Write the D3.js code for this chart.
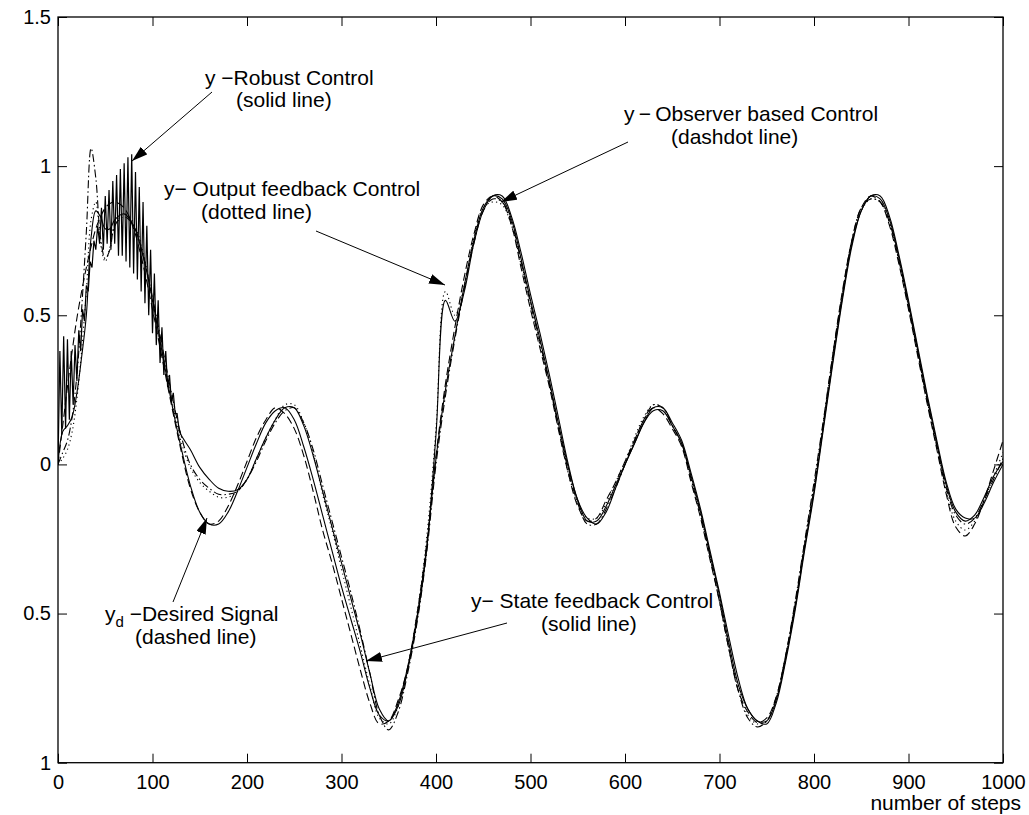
<!DOCTYPE html>
<html>
<head>
<meta charset="utf-8">
<script src="https://cdn.jsdelivr.net/npm/d3@7"></script>
<style>
  body { margin: 0; background: #fff; }
  svg { display: block; font-family: "Liberation Sans", Arial, sans-serif; }
</style>
</head>
<body>
<svg width="1029" height="815"></svg>
<script>
// sample positions (number of steps): dense at the start, then every 10
const steps = d3.range(0, 60, 5).concat(d3.range(60, 1001, 10));

// y_d desired signal (dashed)
const desired = [0, 0.13, 0.26, 0.38, 0.49, 0.58, 0.66, 0.73, 0.79, 0.83, 0.86, 0.875,
  0.88, 0.86, 0.79, 0.67, 0.52, 0.36, 0.2, 0.05, -0.08, -0.16,
  -0.2, -0.19, -0.14, -0.07, 0.01, 0.09, 0.15, 0.19, 0.17, 0.12,
  0.03, -0.09, -0.22, -0.33, -0.45, -0.57, -0.69, -0.8, -0.87, -0.86,
  -0.79, -0.68, -0.5, -0.27, 0.03, 0.27, 0.46, 0.63, 0.77, 0.87,
  0.9, 0.88, 0.8, 0.66, 0.52, 0.39, 0.26, 0.11, -0.03, -0.14,
  -0.19, -0.18, -0.12, -0.06, 0.01, 0.08, 0.15, 0.19, 0.17, 0.12,
  0.06, -0.06, -0.18, -0.32, -0.46, -0.62, -0.76, -0.83, -0.865, -0.85,
  -0.78, -0.64, -0.47, -0.27, -0.08, 0.14, 0.37, 0.58, 0.75, 0.86,
  0.9, 0.88, 0.8, 0.67, 0.52, 0.36, 0.2, 0.05, -0.1, -0.21,
  -0.24, -0.2, -0.12, -0.02, 0.08];

// state feedback control (solid)
const stateFb = [0, 0.11, 0.13, 0.16, 0.24, 0.36, 0.5, 0.76, 0.85, 0.83, 0.79, 0.79,
  0.82, 0.84, 0.8, 0.7, 0.55, 0.38, 0.21, 0.06, -0.07, -0.16,
  -0.2, -0.2, -0.16, -0.09, -0.01, 0.07, 0.14, 0.18, 0.19, 0.15,
  0.06, -0.05, -0.17, -0.29, -0.41, -0.52, -0.63, -0.75, -0.84, -0.86,
  -0.8, -0.68, -0.51, -0.28, 0.02, 0.25, 0.43, 0.6, 0.75, 0.86,
  0.9, 0.89, 0.82, 0.69, 0.55, 0.42, 0.28, 0.13, -0.01, -0.12,
  -0.19, -0.19, -0.14, -0.07, 0.0, 0.07, 0.14, 0.18, 0.18, 0.13,
  0.07, -0.04, -0.16, -0.3, -0.44, -0.6, -0.74, -0.82, -0.86, -0.86,
  -0.79, -0.65, -0.48, -0.28, -0.09, 0.13, 0.35, 0.56, 0.74, 0.85,
  0.9, 0.89, 0.82, 0.69, 0.54, 0.38, 0.22, 0.07, -0.07, -0.16,
  -0.19, -0.17, -0.11, -0.04, 0.01];

// observer based control (dashdot)
const observer = [0, 0.04, 0.08, 0.16, 0.3, 0.52, 0.78, 1.06, 0.96, 0.76, 0.69, 0.72,
  0.8, 0.83, 0.8, 0.7, 0.56, 0.4, 0.24, 0.1, 0.0, -0.05,
  -0.08, -0.1, -0.1, -0.09, -0.05, 0.01, 0.08, 0.14, 0.18, 0.19,
  0.14, 0.05, -0.07, -0.19, -0.31, -0.43, -0.56, -0.7, -0.84, -0.89,
  -0.83, -0.7, -0.53, -0.3, 0.0, 0.23, 0.42, 0.59, 0.74, 0.85,
  0.89, 0.88, 0.81, 0.68, 0.54, 0.41, 0.27, 0.12, -0.02, -0.13,
  -0.2, -0.2, -0.15, -0.08, 0.0, 0.08, 0.15, 0.2, 0.19, 0.13,
  0.07, -0.05, -0.17, -0.31, -0.46, -0.62, -0.76, -0.85, -0.88, -0.86,
  -0.78, -0.64, -0.46, -0.26, -0.06, 0.15, 0.37, 0.57, 0.75, 0.86,
  0.89, 0.88, 0.81, 0.68, 0.53, 0.37, 0.21, 0.06, -0.08, -0.17,
  -0.2, -0.18, -0.12, -0.05, 0.02];

// output feedback control (dotted)
const outputFb = [0, 0.02, 0.05, 0.11, 0.22, 0.38, 0.58, 0.82, 0.88, 0.74, 0.68, 0.73,
  0.8, 0.84, 0.81, 0.71, 0.55, 0.38, 0.22, 0.08, -0.01, -0.06,
  -0.09, -0.11, -0.11, -0.09, -0.05, 0.02, 0.09, 0.15, 0.2, 0.2,
  0.14, 0.04, -0.1, -0.22, -0.35, -0.48, -0.61, -0.74, -0.85, -0.87,
  -0.81, -0.68, -0.5, -0.25, 0.12, 0.58, 0.5, 0.6, 0.76, 0.86,
  0.88, 0.87, 0.8, 0.67, 0.53, 0.4, 0.27, 0.12, -0.03, -0.13,
  -0.18, -0.18, -0.13, -0.06, 0.01, 0.09, 0.16, 0.2, 0.19, 0.13,
  0.07, -0.05, -0.17, -0.31, -0.45, -0.61, -0.75, -0.84, -0.87, -0.86,
  -0.79, -0.65, -0.47, -0.27, -0.07, 0.14, 0.36, 0.57, 0.74, 0.85,
  0.89, 0.88, 0.81, 0.68, 0.53, 0.37, 0.21, 0.06, -0.09, -0.19,
  -0.22, -0.19, -0.12, -0.04, 0.04];

// robust control (solid): chattering start, steps 0..130 every 2
const robustEarlySteps = d3.range(0, 131, 2);
const robustEarly = [0.0, 0.38, 0.1, 0.43, 0.12, 0.42, 0.15, 0.38, 0.2, 0.4, 0.28, 0.45, 0.38, 0.52,
  0.48, 0.6, 0.58, 0.68, 0.66, 0.75, 0.72, 0.8, 0.74, 0.86, 0.72, 0.9, 0.74, 0.92, 0.72, 0.95,
  0.74, 0.97, 0.7, 0.99, 0.7, 1.01, 0.68, 1.03, 0.66, 1.04, 0.64, 0.98, 0.62, 0.93, 0.58, 0.88,
  0.54, 0.8, 0.5, 0.72, 0.44, 0.64, 0.4, 0.55, 0.34, 0.46, 0.3, 0.38, 0.26, 0.3, 0.21, 0.24,
  0.17, 0.17, 0.12, 0.1];
// robust control from step 140 on, every 10
const robustSteps = d3.range(140, 1001, 10);
const robust = [0.05, -0.01,
  -0.05, -0.08, -0.09, -0.085, -0.05, 0.02, 0.09, 0.15, 0.19, 0.19,
  0.13, 0.03, -0.09, -0.21, -0.33, -0.45, -0.57, -0.7, -0.82, -0.86,
  -0.81, -0.69, -0.52, -0.29, 0.1, 0.55, 0.48, 0.58, 0.74, 0.85,
  0.9, 0.9, 0.83, 0.71, 0.57, 0.44, 0.3, 0.15, 0.0, -0.12,
  -0.18, -0.2, -0.16, -0.08, 0.0, 0.07, 0.14, 0.19, 0.19, 0.14,
  0.08, -0.03, -0.15, -0.29, -0.43, -0.58, -0.72, -0.82, -0.86, -0.87,
  -0.8, -0.66, -0.49, -0.29, -0.1, 0.12, 0.34, 0.55, 0.73, 0.85,
  0.9, 0.9, 0.83, 0.7, 0.55, 0.39, 0.23, 0.08, -0.06, -0.15,
  -0.18, -0.18, -0.13, -0.06, 0.0];

const xTicks = [0, 100, 200, 300, 400, 500, 600, 700, 800, 900, 1000];
const yTicks = [-1, -0.5, 0, 0.5, 1, 1.5];

const svg = d3.select("svg");
const pL = 58, pR = 1003, pT = 17, pB = 762.7;
const tickFont = 20, noteFont = 21;

const x = d3.scaleLinear().domain([0, 1000]).range([pL, pR]);
const y = d3.scaleLinear().domain([-1, 1.5]).range([pB, pT]);

const defs = svg.append("defs");
defs.append("clipPath").attr("id", "plot")
  .append("rect").attr("x", pL).attr("y", pT)
  .attr("width", pR - pL).attr("height", pB - pT);

defs.append("marker")
  .attr("id", "head")
  .attr("markerUnits", "userSpaceOnUse")
  .attr("viewBox", "0 0 16 10")
  .attr("refX", 16).attr("refY", 5)
  .attr("markerWidth", 16).attr("markerHeight", 10)
  .attr("orient", "auto")
  .append("path").attr("d", "M0,0L16,5L0,10Z").attr("fill", "#000");

const smooth = d3.line()
  .x(d => x(d[0])).y(d => y(d[1]))
  .curve(d3.curveCatmullRom.alpha(0.5));

const plot = svg.append("g").attr("clip-path", "url(#plot)");

function addSeries(vals, dash) {
  plot.append("path")
    .datum(steps.map((s, i) => [s, vals[i]]))
    .attr("d", smooth)
    .attr("fill", "none")
    .attr("stroke", "#000")
    .attr("stroke-width", 1.1)
    .attr("stroke-dasharray", dash);
}

addSeries(desired, "8,4");
addSeries(observer, "8,3,1.5,3");
addSeries(outputFb, "1.2,3.2");
addSeries(stateFb, null);

// robust: jagged start, smooth afterwards
const robustPts = robustEarlySteps.map((s, i) => [s, robustEarly[i]])
  .concat(robustSteps.map((s, i) => [s, robust[i]]));
plot.append("path")
  .datum(robustPts.filter(d => d[0] <= 130))
  .attr("d", d3.line().x(d => x(d[0])).y(d => y(d[1])))
  .attr("fill", "none").attr("stroke", "#000").attr("stroke-width", 1.2);
plot.append("path")
  .datum(robustPts.filter(d => d[0] >= 128))
  .attr("d", smooth)
  .attr("fill", "none").attr("stroke", "#000").attr("stroke-width", 1.1);

// axes box with inward ticks
const fmt = d => d3.format("~g")(Math.abs(d));
const gx = svg.append("g").attr("transform", `translate(0,${pB})`)
  .call(d3.axisBottom(x).tickValues(xTicks).tickFormat(d3.format("d"))
    .tickSizeInner(-9).tickSizeOuter(0).tickPadding(12));
const gy = svg.append("g").attr("transform", `translate(${pL},0)`)
  .call(d3.axisLeft(y).tickValues(yTicks).tickFormat(fmt).tickSizeInner(-9).tickSizeOuter(0).tickPadding(7));
const gt = svg.append("g").attr("transform", `translate(0,${pT})`)
  .call(d3.axisTop(x).tickValues(xTicks).tickSizeInner(-9).tickSizeOuter(0).tickFormat(""));
const gr = svg.append("g").attr("transform", `translate(${pR},0)`)
  .call(d3.axisRight(y).tickValues(yTicks).tickSizeInner(-9).tickSizeOuter(0).tickFormat(""));

[gx, gy, gt, gr].forEach(g => {
  g.select(".domain").remove();
  g.selectAll("line").attr("stroke", "#000").attr("stroke-width", 1);
  g.selectAll("text").attr("font-size", tickFont).attr("fill", "#000")
    .attr("font-family", "'Liberation Sans', Arial, sans-serif");
});

svg.append("rect")
  .attr("x", pL).attr("y", pT)
  .attr("width", pR - pL).attr("height", pB - pT)
  .attr("fill", "none").attr("stroke", "#000").attr("stroke-width", 1.3);

svg.append("text")
  .attr("x", 1021).attr("y", 810).attr("text-anchor", "end")
  .attr("font-size", noteFont).text("number of steps");

// annotations
const notes = [
  { lines: [["y \u2212Robust Control", 205, 85], ["(solid line)", 236, 107]],
    arrow: [212, 92, 132, 161] },
  { lines: [["y\u2212 Output feedback Control", 164, 196], ["(dotted line)", 201, 219]],
    arrow: [316, 231, 445, 285] },
  { lines: [["y\u2009\u2212\u2009Observer based Control", 624, 121], ["(dashdot line)", 671, 144]],
    arrow: [628, 142, 501, 202] },
  { lines: [["(dashed line)", 135, 644]],
    arrow: [173, 602, 207, 518] },
  { lines: [["y\u2212 State feedback Control", 471, 608], ["(solid line)", 541, 631]],
    arrow: [507, 623, 366, 661] }
];

notes.forEach(n => {
  n.lines.forEach(([t, tx, ty]) => {
    svg.append("text").attr("x", tx).attr("y", ty)
      .attr("font-size", noteFont).text(t);
  });
  svg.append("line")
    .attr("x1", n.arrow[0]).attr("y1", n.arrow[1])
    .attr("x2", n.arrow[2]).attr("y2", n.arrow[3])
    .attr("stroke", "#000").attr("stroke-width", 1)
    .attr("marker-end", "url(#head)");
});

// y_d label with subscript
const yd = svg.append("text").attr("x", 105).attr("y", 621).attr("font-size", noteFont);
yd.append("tspan").text("y");
yd.append("tspan").attr("font-size", 15).attr("dy", 6).text("d");
yd.append("tspan").attr("dy", -6).text(" \u2212Desired Signal");
</script>
</body>
</html>
